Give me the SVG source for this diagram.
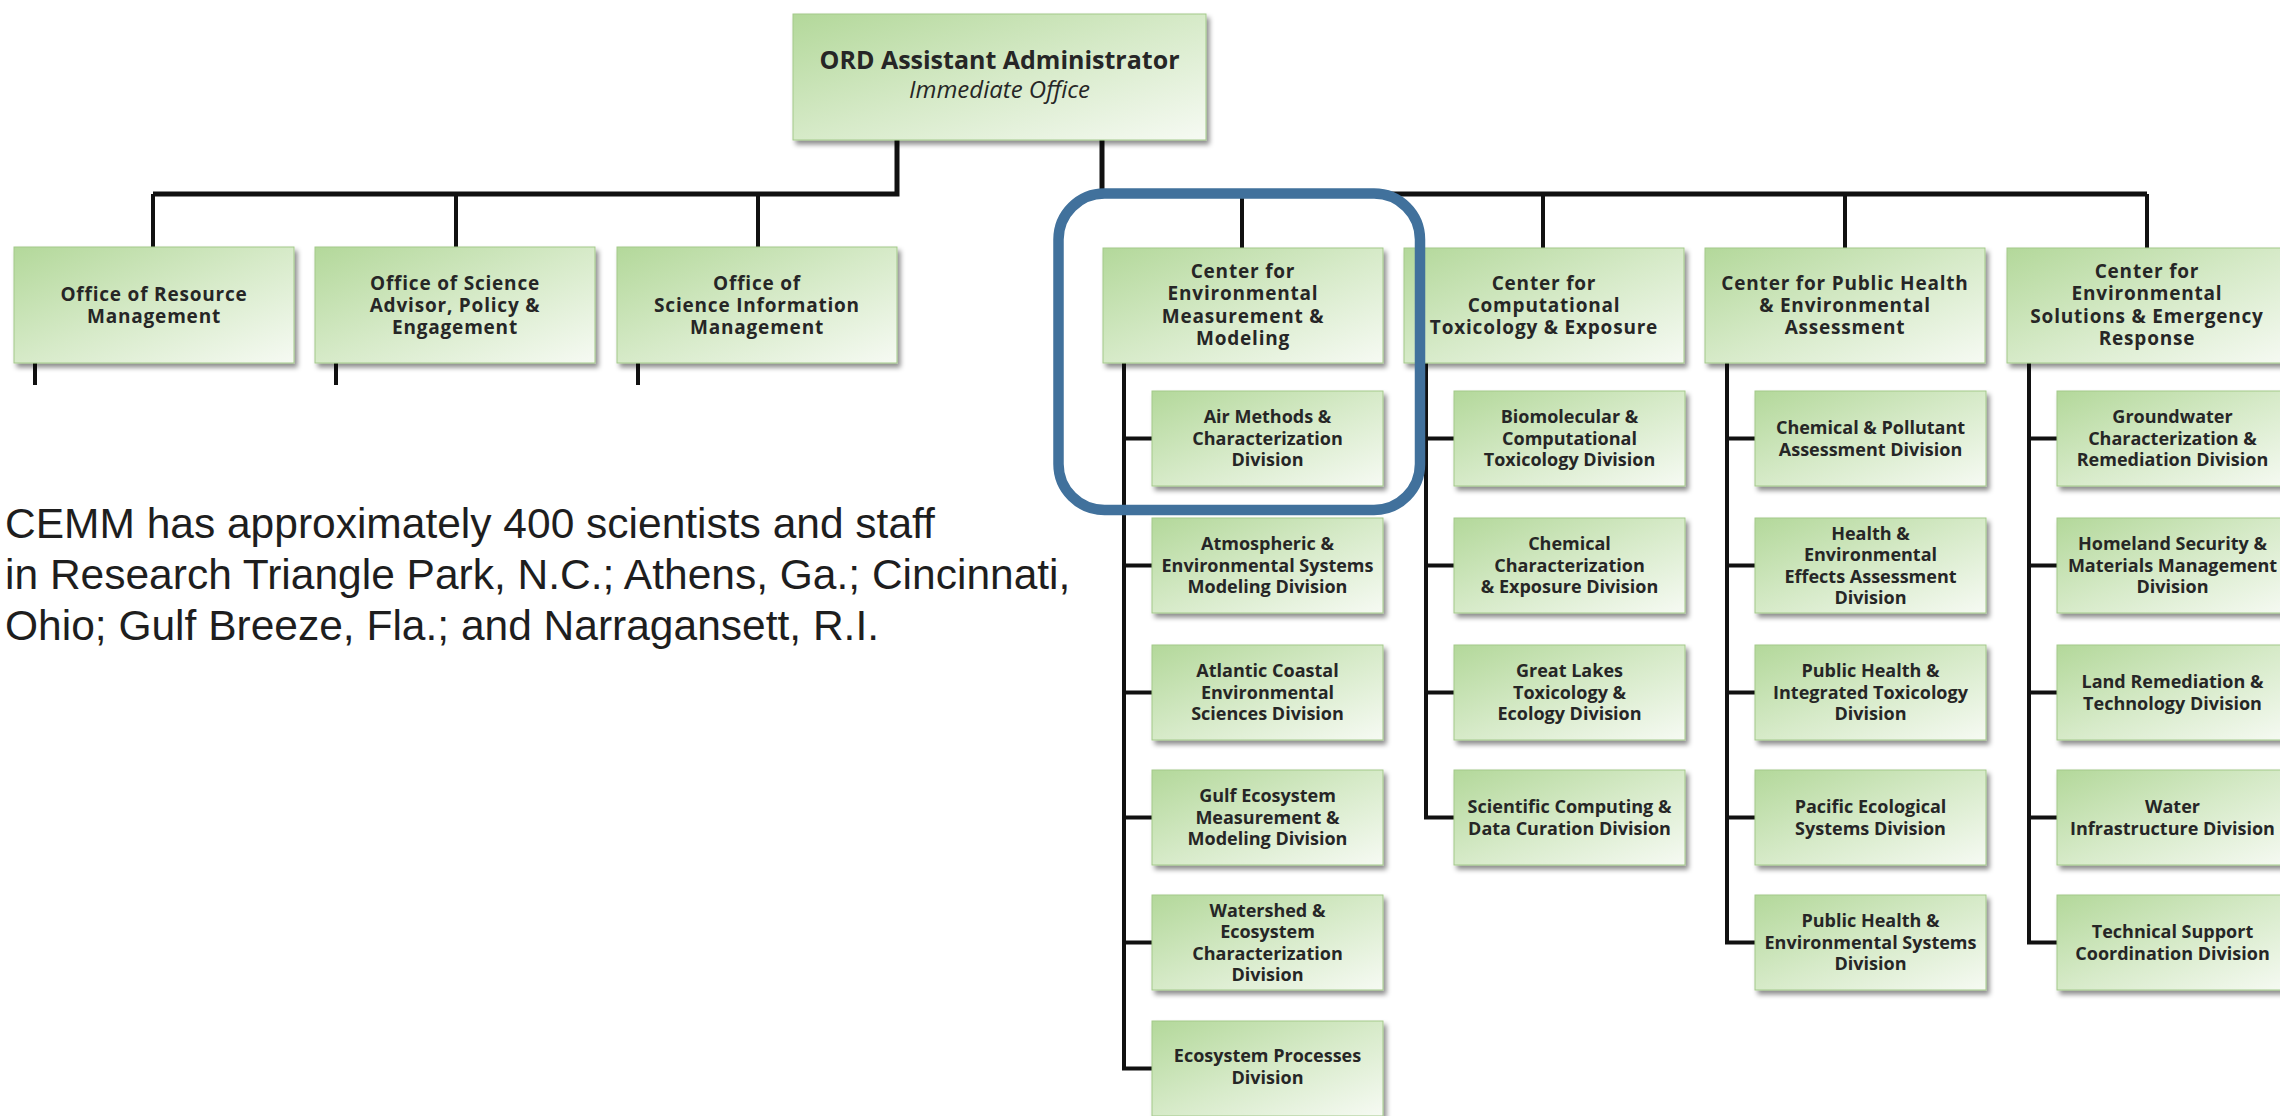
<svg xmlns="http://www.w3.org/2000/svg" width="2280" height="1116" viewBox="0 0 2280 1116">
<style>
.box{fill:url(#g);stroke:#a3c98a;stroke-width:1;filter:url(#sh)}
.t{font-family:"Open Sans","Liberation Sans",sans-serif;font-weight:700;fill:#262626;text-anchor:middle}
.c{font-size:19px;letter-spacing:0.8px}
.s{font-size:18px}
.ln{fill:none;stroke:#111;stroke-width:4;stroke-linejoin:miter}
.hl{fill:none;stroke:#111;stroke-width:5}
.p{font-family:"Liberation Sans",Arial,sans-serif;font-size:42.5px;fill:#1e1e1e}
</style>
<defs>
<linearGradient id="g" x1="0" y1="0" x2="1" y2="1">
<stop offset="0" stop-color="#b3d89a"/>
<stop offset="0.5" stop-color="#d6eac8"/>
<stop offset="1" stop-color="#f6faf3"/>
</linearGradient>
<filter id="sh" x="-5%" y="-5%" width="115%" height="125%">
<feDropShadow dx="3" dy="4" stdDeviation="2.5" flood-color="#000" flood-opacity="0.45"/>
</filter>
</defs>
<rect width="2280" height="1116" fill="#fff"/>

<g id="connectors">
<path class="hl" d="M897,140 V194 H153"/>
<path class="ln" d="M153,194 V247 M456,194 V247 M758,194 V247"/>
<path class="hl" d="M1102,140 V194 H2147"/>
<path class="ln" d="M2147,194 V248 M1242,194 V248 M1543,194 V248 M1845,194 V248"/>
<path class="ln" d="M35,363 V385 M336,363 V385 M638,363 V385"/>
<path class="ln" d="M1124,363 V1068.5 H1152 M1124,438.5 H1152 M1124,565.5 H1152 M1124,692.5 H1152 M1124,817.5 H1152 M1124,942.5 H1152"/>
<path class="ln" d="M1426,363 V817.5 H1454 M1426,438.5 H1454 M1426,565.5 H1454 M1426,692.5 H1454"/>
<path class="ln" d="M1727,363 V942.5 H1755 M1727,438.5 H1755 M1727,565.5 H1755 M1727,692.5 H1755 M1727,817.5 H1755"/>
<path class="ln" d="M2029,363 V942.5 H2057 M2029,438.5 H2057 M2029,565.5 H2057 M2029,692.5 H2057 M2029,817.5 H2057"/>
</g>

<g id="ord">
<rect class="box" x="793" y="14" width="413" height="126"/>
<text class="t" x="999.5" y="69" style="font-size:25px">ORD Assistant Administrator</text>
<text class="t" x="999.5" y="98" style="font-size:24px;font-weight:400;font-style:italic">Immediate Office</text>
</g>

<g id="orm">
<rect class="box" x="14" y="247" width="280" height="116"/>
<text class="t c"><tspan x="154" y="300.9">Office of Resource</tspan><tspan x="154" y="323.2">Management</tspan></text>
</g>
<g id="osape">
<rect class="box" x="315" y="247" width="280" height="116"/>
<text class="t c"><tspan x="455" y="289.7">Office of Science</tspan><tspan x="455" y="312">Advisor, Policy &amp;</tspan><tspan x="455" y="334.3">Engagement</tspan></text>
</g>
<g id="osim">
<rect class="box" x="617" y="247" width="280" height="116"/>
<text class="t c"><tspan x="757" y="289.7">Office of</tspan><tspan x="757" y="312">Science Information</tspan><tspan x="757" y="334.3">Management</tspan></text>
</g>

<g id="cemm">
<rect class="box" x="1103" y="248" width="280" height="115"/>
<text class="t c"><tspan x="1243" y="278">Center for</tspan><tspan x="1243" y="300.3">Environmental</tspan><tspan x="1243" y="322.6">Measurement &amp;</tspan><tspan x="1243" y="344.9">Modeling</tspan></text>
</g>
<g id="ccte">
<rect class="box" x="1404" y="248" width="280" height="115"/>
<text class="t c"><tspan x="1544" y="289.7">Center for</tspan><tspan x="1544" y="312">Computational</tspan><tspan x="1544" y="334.3">Toxicology &amp; Exposure</tspan></text>
</g>
<g id="cphea">
<rect class="box" x="1705" y="248" width="280" height="115"/>
<text class="t c"><tspan x="1845" y="289.7">Center for Public Health</tspan><tspan x="1845" y="312">&amp; Environmental</tspan><tspan x="1845" y="334.3">Assessment</tspan></text>
</g>
<g id="ceser">
<rect class="box" x="2007" y="248" width="280" height="115"/>
<text class="t c"><tspan x="2147" y="278">Center for</tspan><tspan x="2147" y="300.3">Environmental</tspan><tspan x="2147" y="322.6">Solutions &amp; Emergency</tspan><tspan x="2147" y="344.9">Response</tspan></text>
</g>

<g id="cemm-1">
<rect class="box" x="1152" y="391" width="231" height="95"/>
<text class="t s"><tspan x="1267.5" y="423.3">Air Methods &amp;</tspan><tspan x="1267.5" y="444.8">Characterization</tspan><tspan x="1267.5" y="466.3">Division</tspan></text>
</g>
<g id="cemm-2">
<rect class="box" x="1152" y="518" width="231" height="95"/>
<text class="t s"><tspan x="1267.5" y="550.3">Atmospheric &amp;</tspan><tspan x="1267.5" y="571.8">Environmental Systems</tspan><tspan x="1267.5" y="593.3">Modeling Division</tspan></text>
</g>
<g id="cemm-3">
<rect class="box" x="1152" y="645" width="231" height="95"/>
<text class="t s"><tspan x="1267.5" y="677.3">Atlantic Coastal</tspan><tspan x="1267.5" y="698.8">Environmental</tspan><tspan x="1267.5" y="720.3">Sciences Division</tspan></text>
</g>
<g id="cemm-4">
<rect class="box" x="1152" y="770" width="231" height="95"/>
<text class="t s"><tspan x="1267.5" y="802.3">Gulf Ecosystem</tspan><tspan x="1267.5" y="823.8">Measurement &amp;</tspan><tspan x="1267.5" y="845.3">Modeling Division</tspan></text>
</g>
<g id="cemm-5">
<rect class="box" x="1152" y="895" width="231" height="95"/>
<text class="t s"><tspan x="1267.5" y="916.5">Watershed &amp;</tspan><tspan x="1267.5" y="938">Ecosystem</tspan><tspan x="1267.5" y="959.5">Characterization</tspan><tspan x="1267.5" y="981">Division</tspan></text>
</g>
<g id="cemm-6">
<rect class="box" x="1152" y="1021" width="231" height="95"/>
<text class="t s"><tspan x="1267.5" y="1062">Ecosystem Processes</tspan><tspan x="1267.5" y="1083.5">Division</tspan></text>
</g>

<g id="ccte-1">
<rect class="box" x="1454" y="391" width="231" height="95"/>
<text class="t s"><tspan x="1569.5" y="423.3">Biomolecular  &amp;</tspan><tspan x="1569.5" y="444.8">Computational</tspan><tspan x="1569.5" y="466.3">Toxicology Division</tspan></text>
</g>
<g id="ccte-2">
<rect class="box" x="1454" y="518" width="231" height="95"/>
<text class="t s"><tspan x="1569.5" y="550.3">Chemical</tspan><tspan x="1569.5" y="571.8">Characterization</tspan><tspan x="1569.5" y="593.3">&amp; Exposure Division</tspan></text>
</g>
<g id="ccte-3">
<rect class="box" x="1454" y="645" width="231" height="95"/>
<text class="t s"><tspan x="1569.5" y="677.3">Great Lakes</tspan><tspan x="1569.5" y="698.8">Toxicology &amp;</tspan><tspan x="1569.5" y="720.3">Ecology Division</tspan></text>
</g>
<g id="ccte-4">
<rect class="box" x="1454" y="770" width="231" height="95"/>
<text class="t s"><tspan x="1569.5" y="813">Scientific Computing &amp;</tspan><tspan x="1569.5" y="834.5">Data Curation Division</tspan></text>
</g>

<g id="cphea-1">
<rect class="box" x="1755" y="391" width="231" height="95"/>
<text class="t s"><tspan x="1870.5" y="434">Chemical &amp; Pollutant</tspan><tspan x="1870.5" y="455.5">Assessment Division</tspan></text>
</g>
<g id="cphea-2">
<rect class="box" x="1755" y="518" width="231" height="95"/>
<text class="t s"><tspan x="1870.5" y="539.5">Health &amp;</tspan><tspan x="1870.5" y="561">Environmental</tspan><tspan x="1870.5" y="582.5">Effects Assessment</tspan><tspan x="1870.5" y="604">Division</tspan></text>
</g>
<g id="cphea-3">
<rect class="box" x="1755" y="645" width="231" height="95"/>
<text class="t s"><tspan x="1870.5" y="677.3">Public Health &amp;</tspan><tspan x="1870.5" y="698.8">Integrated Toxicology</tspan><tspan x="1870.5" y="720.3">Division</tspan></text>
</g>
<g id="cphea-4">
<rect class="box" x="1755" y="770" width="231" height="95"/>
<text class="t s"><tspan x="1870.5" y="813">Pacific Ecological</tspan><tspan x="1870.5" y="834.5">Systems Division</tspan></text>
</g>
<g id="cphea-5">
<rect class="box" x="1755" y="895" width="231" height="95"/>
<text class="t s"><tspan x="1870.5" y="927.3">Public Health &amp;</tspan><tspan x="1870.5" y="948.8">Environmental Systems</tspan><tspan x="1870.5" y="970.3">Division</tspan></text>
</g>

<g id="ceser-1">
<rect class="box" x="2057" y="391" width="231" height="95"/>
<text class="t s"><tspan x="2172.5" y="423.3">Groundwater</tspan><tspan x="2172.5" y="444.8">Characterization &amp;</tspan><tspan x="2172.5" y="466.3">Remediation Division</tspan></text>
</g>
<g id="ceser-2">
<rect class="box" x="2057" y="518" width="231" height="95"/>
<text class="t s"><tspan x="2172.5" y="550.3">Homeland  Security &amp;</tspan><tspan x="2172.5" y="571.8">Materials Management</tspan><tspan x="2172.5" y="593.3">Division</tspan></text>
</g>
<g id="ceser-3">
<rect class="box" x="2057" y="645" width="231" height="95"/>
<text class="t s"><tspan x="2172.5" y="688">Land Remediation &amp;</tspan><tspan x="2172.5" y="709.5">Technology Division</tspan></text>
</g>
<g id="ceser-4">
<rect class="box" x="2057" y="770" width="231" height="95"/>
<text class="t s"><tspan x="2172.5" y="813">Water</tspan><tspan x="2172.5" y="834.5">Infrastructure Division</tspan></text>
</g>
<g id="ceser-5">
<rect class="box" x="2057" y="895" width="231" height="95"/>
<text class="t s"><tspan x="2172.5" y="938">Technical Support</tspan><tspan x="2172.5" y="959.5">Coordination Division</tspan></text>
</g>

<g id="highlight">
<rect x="1058.5" y="193.5" width="361.5" height="316.5" rx="46" fill="none" stroke="#41719c" stroke-width="10.5"/>
</g>

<g id="caption">
<text class="p" x="5" y="538">CEMM has approximately 400 scientists and staff</text>
<text class="p" x="5" y="589">in Research Triangle Park, N.C.; Athens, Ga.; Cincinnati,</text>
<text class="p" x="5" y="640">Ohio; Gulf Breeze, Fla.; and Narragansett, R.I.</text>
</g>
</svg>
